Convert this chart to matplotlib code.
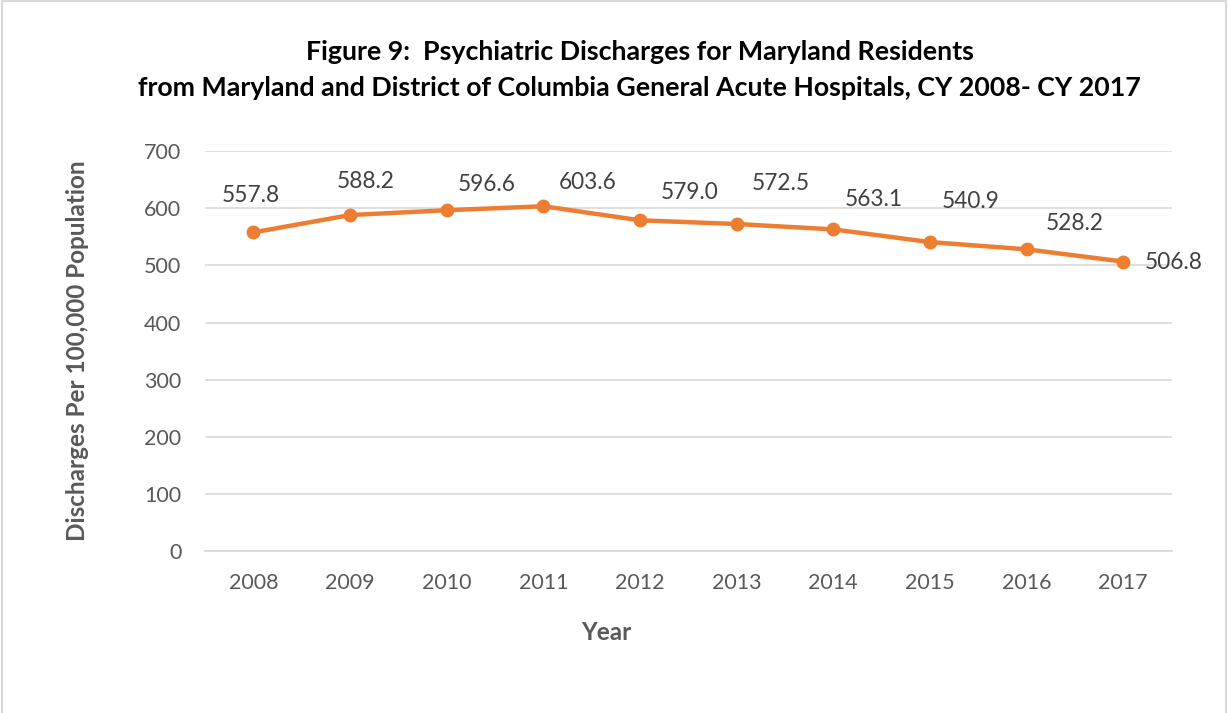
import matplotlib.pyplot as plt
from matplotlib.patches import Rectangle

years = ['2008', '2009', '2010', '2011', '2012', '2013', '2014', '2015', '2016', '2017']
rates = [557.8, 588.2, 596.6, 603.6, 579.0, 572.5, 563.1, 540.9, 528.2, 506.8]

# label offsets in pixels (dx, dy), as placed in the original
label_offsets = [(-3, 37), (16, 34), (40, 26), (44, 24), (50, 28),
                 (44, 41), (40, 30), (41, 41), (48, 26), (50, -1)]

plt.rcParams['font.family'] = ['Lato', 'DejaVu Sans']
gray = '#595959'
orange = '#ED7D31'

fig = plt.figure(figsize=(12.28, 7.13), dpi=100)
fig.patches.append(Rectangle((0.0015, -0.1), 0.997, 1.098, transform=fig.transFigure,
                             fill=False, edgecolor='#D9D9D9', linewidth=1.5))

ax = fig.add_axes([0.167, 0.227, 0.787, 0.561])
x = list(range(len(years)))
ax.plot(x, rates, color=orange, linewidth=3.2, marker='o', markersize=9, zorder=3)

for i, v in enumerate(rates):
    dx, dy = label_offsets[i]
    ax.annotate('%.1f' % v, (x[i], v), xytext=(dx, dy), textcoords='offset pixels',
                ha='center', va='center', fontsize=16.3, color='#404040')

ax.set_xlim(-0.5, len(years) - 0.5)
ax.set_ylim(0, 700)
ax.set_yticks(range(0, 701, 100))
ax.set_xticks(x)
ax.set_xticklabels(years)
ax.grid(axis='y', color='#D9D9D9', linewidth=1.2)
ax.set_axisbelow(True)
for s in ['top', 'right', 'left']:
    ax.spines[s].set_visible(False)
ax.spines['bottom'].set_color('#D9D9D9')
ax.spines['bottom'].set_linewidth(1.2)
ax.tick_params(length=0, labelsize=15.5, labelcolor=gray)
ax.tick_params(axis='x', pad=16)
ax.tick_params(axis='y', pad=17)

ax.set_xlabel('Year', fontsize=17.5, fontweight='bold', color=gray, labelpad=20, x=0.415)
ax.set_ylabel('Discharges Per 100,000 Population', fontsize=17.5, fontweight='bold',
              color=gray, labelpad=40)

fig.text(0.521, 0.927, 'Figure 9:  Psychiatric Discharges for Maryland Residents',
         ha='center', va='center', fontsize=19.3, fontweight='bold', color='black')
fig.text(0.521, 0.876, 'from Maryland and District of Columbia General Acute Hospitals, CY 2008- CY 2017',
         ha='center', va='center', fontsize=19.3, fontweight='bold', color='black')

fig.savefig('out.png', dpi=100)
